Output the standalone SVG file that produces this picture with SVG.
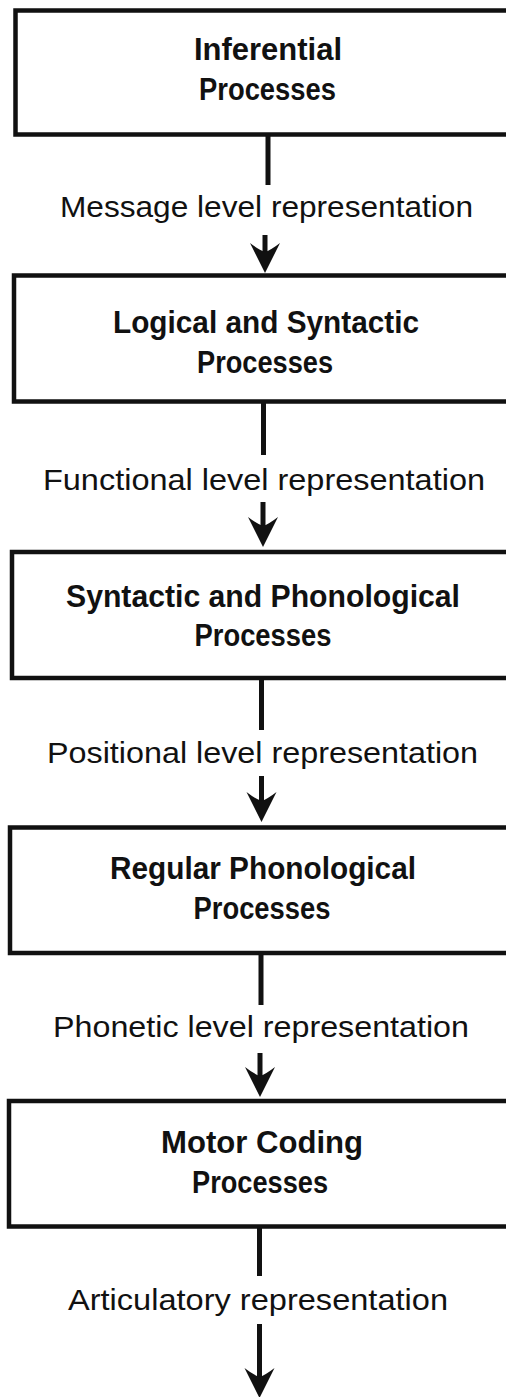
<svg xmlns="http://www.w3.org/2000/svg" width="506" height="1397" viewBox="0 0 506 1397">
<style>
.box{fill:#fff;stroke:#111;stroke-width:4.5}
.t{font-family:"Liberation Sans",Arial,sans-serif;font-weight:bold;font-size:31px;fill:#111;text-anchor:middle}
.l{font-family:"Liberation Sans",Arial,sans-serif;font-size:30px;fill:#111;text-anchor:middle}
.c{stroke:#111;stroke-width:5;fill:none}
.h{fill:#111}
</style>
<defs>
<path id="ah" d="M0,0 L-15,-30 Q-6,-23 0,-21 Q6,-23 15,-30 Z"/>
</defs>
<rect width="506" height="1397" fill="#fff"/>
<g id="n1"><rect class="box" x="15.5" y="10.5" width="520" height="124"/>
<text class="t" x="268" y="60" textLength="148" lengthAdjust="spacingAndGlyphs">Inferential</text>
<text class="t" x="267.5" y="100" textLength="137" lengthAdjust="spacingAndGlyphs">Processes</text></g>
<g id="n2"><rect class="box" x="14" y="275.5" width="520" height="126"/>
<text class="t" x="266" y="333" textLength="306" lengthAdjust="spacingAndGlyphs">Logical and Syntactic</text>
<text class="t" x="265" y="373" textLength="136" lengthAdjust="spacingAndGlyphs">Processes</text></g>
<g id="n3"><rect class="box" x="12" y="552" width="520" height="126"/>
<text class="t" x="263" y="607" textLength="394" lengthAdjust="spacingAndGlyphs">Syntactic and Phonological</text>
<text class="t" x="263" y="646" textLength="137" lengthAdjust="spacingAndGlyphs">Processes</text></g>
<g id="n4"><rect class="box" x="10" y="827.5" width="520" height="125.5"/>
<text class="t" x="263" y="879" textLength="306" lengthAdjust="spacingAndGlyphs">Regular Phonological</text>
<text class="t" x="262" y="919" textLength="137" lengthAdjust="spacingAndGlyphs">Processes</text></g>
<g id="n5"><rect class="box" x="9" y="1101" width="520" height="125.5"/>
<text class="t" x="262" y="1153" textLength="202" lengthAdjust="spacingAndGlyphs">Motor Coding</text>
<text class="t" x="260" y="1193" textLength="136" lengthAdjust="spacingAndGlyphs">Processes</text></g>
<g id="connectors">
<line class="c" x1="268" y1="134" x2="268" y2="185"/>
<text class="l" x="266.5" y="217" textLength="413" lengthAdjust="spacingAndGlyphs">Message level representation</text>
<line class="c" x1="265" y1="235" x2="265" y2="255"/>
<use href="#ah" class="h" x="265" y="273"/>
<line class="c" x1="263.5" y1="401" x2="263.5" y2="455"/>
<text class="l" x="264" y="490" textLength="442" lengthAdjust="spacingAndGlyphs">Functional level representation</text>
<line class="c" x1="263" y1="502" x2="263" y2="528"/>
<use href="#ah" class="h" x="263" y="547"/>
<line class="c" x1="261.5" y1="678" x2="261.5" y2="730"/>
<text class="l" x="262.5" y="763" textLength="431" lengthAdjust="spacingAndGlyphs">Positional level representation</text>
<line class="c" x1="261.5" y1="776" x2="261.5" y2="803"/>
<use href="#ah" class="h" x="261.5" y="822"/>
<line class="c" x1="261" y1="953" x2="261" y2="1005"/>
<text class="l" x="261" y="1037" textLength="416" lengthAdjust="spacingAndGlyphs">Phonetic level representation</text>
<line class="c" x1="260" y1="1053" x2="260" y2="1078"/>
<use href="#ah" class="h" x="260" y="1097"/>
<line class="c" x1="259.5" y1="1226" x2="259.5" y2="1276"/>
<text class="l" x="258" y="1310" textLength="380" lengthAdjust="spacingAndGlyphs">Articulatory representation</text>
<line class="c" x1="259.5" y1="1324" x2="259.5" y2="1380"/>
<use href="#ah" class="h" x="259.5" y="1398"/>
</g>
</svg>
